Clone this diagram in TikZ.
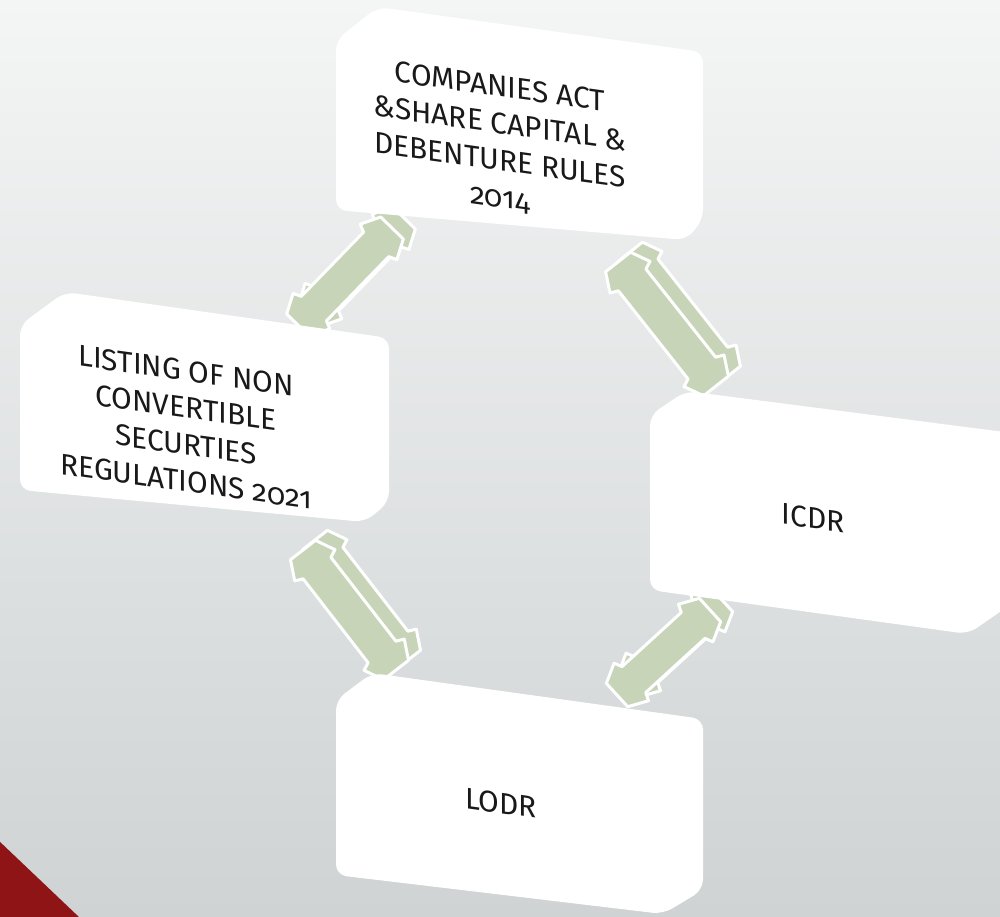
\documentclass[tikz,border=0pt]{standalone}
\usepackage{fontspec}
\setmainfont{Fira Sans}[Numbers=OldStyle]
\usetikzlibrary{calc}
\definecolor{sage}{RGB}{200,212,184}
\definecolor{slidered}{RGB}{142,20,22}
\definecolor{bgtop}{RGB}{244,245,245}
\definecolor{bgmid}{RGB}{233,235,235}
\definecolor{bgbot}{RGB}{207,211,212}
\tikzset{
  slab/.style={fill=white, rounded corners=6pt},
  arrowface/.style={fill=sage, draw=white, line width=1.7pt, line join=round},
  boxtext/.style={align=center, yslant=-0.14, text=black!90,
    font=\fontsize{17}{21}\selectfont}
}
\newcommand\blockarrow[2]{%
  \foreach \dx/\dy in {12/-10,0/0}
    \filldraw[arrowface, transform canvas={shift={(\dx,\dy)}}]
      ($(#1)!9pt!90:(#2)$) -- ($(#1)!11pt!(#2)!14.5pt!90:(#2)$)
      -- ($(#1)!13pt!(#2)!10pt!90:(#2)$) -- ($(#2)!13pt!(#1)!10pt!-90:(#1)$)
      -- ($(#2)!11pt!(#1)!14.5pt!-90:(#1)$) -- ($(#2)!9pt!-90:(#1)$)
      -- ($(#2)!9pt!90:(#1)$) -- ($(#2)!11pt!(#1)!14.5pt!90:(#1)$)
      -- ($(#2)!13pt!(#1)!10pt!90:(#1)$) -- ($(#1)!13pt!(#2)!10pt!-90:(#2)$)
      -- ($(#1)!11pt!(#2)!14.5pt!-90:(#2)$) -- ($(#1)!9pt!-90:(#2)$) -- cycle;
}

\begin{document}
\begin{tikzpicture}[x=0.02cm, y=-0.02cm]
    \useasboundingbox (0,0) rectangle (1000,916);
    \clip (0,0) rectangle (1000,916);
    \shade[top color=bgtop, middle color=bgmid, bottom color=bgbot] (0,0) rectangle (1000,916);
    \fill[slidered] (-2,840) -- (80,918) -- (-2,918) -- cycle;

    % arrow ends
    \coordinate (list-ne) at (298,325);
    \coordinate (comp-sw) at (392,228);
    \coordinate (comp-se) at (618,262);
    \coordinate (icdr-nw) at (716,386);
    \coordinate (list-se) at (303,550);
    \coordinate (lodr-nw) at (396,670);
    \coordinate (lodr-ne) at (617,695);
    \coordinate (icdr-sw) at (710,610);

    \blockarrow{list-ne}{comp-sw}
    \blockarrow{comp-se}{icdr-nw}
    \blockarrow{list-se}{lodr-nw}
    \blockarrow{lodr-ne}{icdr-sw}

    % boxes
    \fill[slab] (336,40) -- (378,7) -- (703,52) -- (703,220) -- (686,240) -- (336,210) -- cycle;
    \fill[slab] (20,325) -- (65,292) -- (389,338) -- (389,502) -- (365,522) -- (20,490) -- cycle;
    \fill[slab] (650,415) -- (686,391) -- (1020,434) -- (1020,598) -- (968,634) -- (650,590) -- cycle;
    \fill[slab] (336,700) -- (372,673) -- (703,719) -- (703,890) -- (663,914) -- (336,875) -- cycle;

    \node[boxtext] (comp) at (500,143) {COMPANIES ACT\\\&SHARE CAPITAL \&\\DEBENTURE RULES\\2014};
    \node[boxtext] (list) at (186,426) {LISTING OF NON\\CONVERTIBLE\\SECURTIES\\REGULATIONS 2021};
    \node[boxtext] (icdr) at (813,518) {ICDR};
    \node[boxtext] (lodr) at (501,803) {LODR};
\end{tikzpicture}
\end{document}
